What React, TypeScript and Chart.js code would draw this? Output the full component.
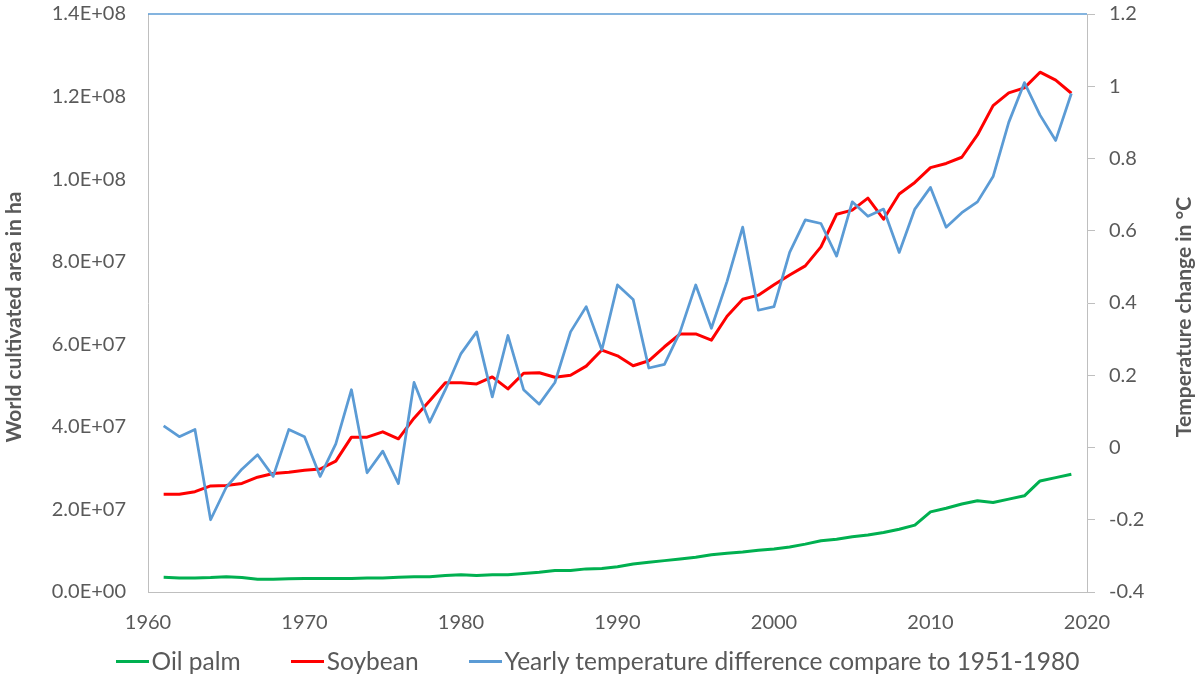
import React, { useEffect, useRef } from 'react';
import { Chart, registerables } from 'chart.js';

Chart.register(...registerables);

// ---------- DATA ----------
const years = [
  1961, 1962, 1963, 1964, 1965, 1966, 1967, 1968, 1969, 1970,
  1971, 1972, 1973, 1974, 1975, 1976, 1977, 1978, 1979, 1980,
  1981, 1982, 1983, 1984, 1985, 1986, 1987, 1988, 1989, 1990,
  1991, 1992, 1993, 1994, 1995, 1996, 1997, 1998, 1999, 2000,
  2001, 2002, 2003, 2004, 2005, 2006, 2007, 2008, 2009, 2010,
  2011, 2012, 2013, 2014, 2015, 2016, 2017, 2018, 2019,
];

// World cultivated area in ha
const oilPalm = [
  3.56e6, 3.4e6, 3.4e6, 3.5e6, 3.7e6, 3.5e6, 3.1e6, 3.1e6, 3.2e6, 3.3e6,
  3.3e6, 3.3e6, 3.3e6, 3.4e6, 3.4e6, 3.6e6, 3.7e6, 3.7e6, 4.0e6, 4.2e6,
  4.0e6, 4.2e6, 4.2e6, 4.5e6, 4.8e6, 5.2e6, 5.2e6, 5.6e6, 5.7e6, 6.1e6,
  6.8e6, 7.2e6, 7.6e6, 8.0e6, 8.4e6, 9.0e6, 9.4e6, 9.7e6, 1.01e7, 1.04e7,
  1.09e7, 1.16e7, 1.24e7, 1.28e7, 1.34e7, 1.38e7, 1.44e7, 1.52e7, 1.62e7, 1.94e7,
  2.03e7, 2.13e7, 2.21e7, 2.17e7, 2.25e7, 2.33e7, 2.69e7, 2.77e7, 2.85e7,
];

const soybean = [
  2.37e7, 2.37e7, 2.43e7, 2.57e7, 2.58e7, 2.63e7, 2.78e7, 2.87e7, 2.9e7, 2.95e7,
  2.98e7, 3.17e7, 3.75e7, 3.75e7, 3.88e7, 3.71e7, 4.21e7, 4.63e7, 5.07e7, 5.07e7,
  5.04e7, 5.21e7, 4.92e7, 5.3e7, 5.31e7, 5.2e7, 5.25e7, 5.47e7, 5.86e7, 5.72e7,
  5.48e7, 5.6e7, 5.94e7, 6.25e7, 6.25e7, 6.1e7, 6.68e7, 7.09e7, 7.19e7, 7.44e7,
  7.68e7, 7.9e7, 8.36e7, 9.15e7, 9.25e7, 9.54e7, 9.03e7, 9.64e7, 9.92e7, 1.028e8,
  1.038e8, 1.053e8, 1.107e8, 1.178e8, 1.209e8, 1.221e8, 1.259e8, 1.24e8, 1.208e8,
];

// Temperature change in °C
const temperature = [
  0.06, 0.03, 0.05, -0.2, -0.11, -0.06, -0.02, -0.08, 0.05, 0.03,
  -0.08, 0.01, 0.16, -0.07, -0.01, -0.1, 0.18, 0.07, 0.16, 0.26,
  0.32, 0.14, 0.31, 0.16, 0.12, 0.18, 0.32, 0.39, 0.27, 0.45,
  0.41, 0.22, 0.23, 0.32, 0.45, 0.33, 0.46, 0.61, 0.38, 0.39,
  0.54, 0.63, 0.62, 0.53, 0.68, 0.64, 0.66, 0.54, 0.66, 0.72,
  0.61, 0.65, 0.68, 0.75, 0.9, 1.01, 0.92, 0.85, 0.98,
];

const seriesNames = ['Oil palm', 'Soybean', 'Yearly temperature difference compare to 1951-1980'];
const seriesColors = ['#00B050', '#FF0000', '#5B9BD5'];

const xTickLabels = ['1960', '1970', '1980', '1990', '2000', '2010', '2020'];
const leftTickLabels = ['0.0E+00', '2.0E+07', '4.0E+07', '6.0E+07', '8.0E+07', '1.0E+08', '1.2E+08', '1.4E+08'];
const rightTickLabels = ['-0.4', '-0.2', '0', '0.2', '0.4', '0.6', '0.8', '1', '1.2'];

const leftTitle = 'World cultivated area in ha';
const rightTitle = 'Temperature change in °C';

const TEXT = '#595959';
const AXIS = '#BFBFBF';
const FONT = 'Lato';

const decorPlugin = {
  id: 'decor',
  beforeDatasetsDraw(chart: any) {
    const { ctx, chartArea } = chart;
    ctx.save();
    ctx.strokeStyle = '#5B9BD5';
    ctx.lineWidth = 1.5;
    ctx.beginPath();
    ctx.moveTo(chartArea.left, chartArea.top);
    ctx.lineTo(chartArea.right, chartArea.top);
    ctx.stroke();
    ctx.restore();
  },
  afterDraw(chart: any) {
    const { ctx, chartArea } = chart;
    const cy = (chartArea.top + chartArea.bottom) / 2 + 14;
    ctx.save();
    ctx.fillStyle = TEXT;
    ctx.font = `bold 21px ${FONT}`;
    ctx.textAlign = 'center';
    ctx.textBaseline = 'middle';
    ctx.save();
    ctx.translate(14, cy);
    ctx.rotate(-Math.PI / 2);
    ctx.fillText(leftTitle, 0, 0);
    ctx.restore();
    ctx.save();
    ctx.translate(1184, cy);
    ctx.rotate(-Math.PI / 2);
    ctx.fillText(rightTitle, 0, 0);
    ctx.restore();
    ctx.restore();
  },
};

const noVerticalPad = (s: any, w: number) => {
  s.width = w;
  s.paddingTop = 0;
  s.paddingBottom = 0;
};

export default function App() {
  const canvasRef = useRef<HTMLCanvasElement | null>(null);

  useEffect(() => {
    if (!canvasRef.current) return;
    Chart.defaults.font.family = FONT;
    const series = [oilPalm, soybean, temperature];
    const datasets = series.map((vals, k) => ({
      label: seriesNames[k],
      data: years.map((yr, i) => ({ x: yr, y: vals[i] })),
      borderColor: seriesColors[k],
      backgroundColor: seriesColors[k],
      borderWidth: k === 2 ? 2.75 : 3,
      pointRadius: 0,
      tension: 0,
      fill: false,
      borderJoinStyle: 'round' as const,
      yAxisID: k === 2 ? 'y1' : 'y',
      order: 3 - k,
    }));

    const chart = new Chart(canvasRef.current, {
      type: 'line',
      data: { datasets },
      options: {
        animation: false,
        responsive: false,
        maintainAspectRatio: false,
        layout: { padding: { top: 14, left: 0, right: 0, bottom: 0 } },
        plugins: {
          legend: { display: false },
          tooltip: { enabled: false },
        },
        scales: {
          x: {
            type: 'linear',
            min: 1960,
            max: 2020,
            afterFit: (s: any) => { s.height = 90; },
            ticks: {
              stepSize: 10,
              color: TEXT,
              font: { size: 20, family: FONT },
              padding: 19,
              maxRotation: 0,
              callback: (v: any) => {
                const i = xTickLabels.indexOf(String(v));
                return i >= 0 ? xTickLabels[i] : '';
              },
            },
            grid: { display: false, drawTicks: false },
            border: { display: true, color: AXIS, width: 1 },
          },
          y: {
            type: 'linear',
            position: 'left',
            min: 0,
            max: 1.4e8,
            afterFit: (s: any) => noVerticalPad(s, 148),
            ticks: {
              stepSize: 2e7,
              color: TEXT,
              font: { size: 20, family: FONT },
              padding: 22,
              callback: (v: any) => leftTickLabels[Math.round(Number(v) / 2e7)] ?? '',
            },
            grid: { display: false, drawTicks: false },
            border: { display: true, color: AXIS, width: 1 },
          },
          y1: {
            type: 'linear',
            position: 'right',
            min: -0.4,
            max: 1.2,
            afterFit: (s: any) => noVerticalPad(s, 108),
            ticks: {
              stepSize: 0.2,
              color: TEXT,
              font: { size: 20, family: FONT },
              padding: 14,
              callback: (v: any) => rightTickLabels[Math.round((Number(v) + 0.4) / 0.2)] ?? '',
            },
            grid: {
              display: true,
              drawOnChartArea: false,
              drawTicks: true,
              tickLength: 8,
              color: AXIS,
              tickColor: AXIS,
            },
            border: { display: true, color: AXIS, width: 1 },
          },
        },
      },
      plugins: [decorPlugin],
    });
    return () => chart.destroy();
  }, []);

  return (
    <div style={{ position: 'absolute', left: 0, top: 0, width: 1195, height: 682, background: '#fff' }}>
      <canvas ref={canvasRef} width={1195} height={682} style={{ display: 'block', width: 1195, height: 682 }} />
      <div
        style={{
          position: 'absolute',
          left: 0,
          top: 647,
          width: 1195,
          display: 'flex',
          justifyContent: 'center',
          alignItems: 'center',
          fontFamily: FONT,
          fontSize: 24.5,
          lineHeight: '28px',
          color: TEXT,
          whiteSpace: 'nowrap',
        }}
      >
        {seriesNames.map((name, k) => (
          <div key={name} style={{ display: 'flex', alignItems: 'center', marginLeft: k === 0 ? 0 : 50 }}>
            <span style={{ display: 'inline-block', width: 33, height: 3, background: seriesColors[k], marginRight: 3 }} />
            <span>{name}</span>
          </div>
        ))}
      </div>
    </div>
  );
}
